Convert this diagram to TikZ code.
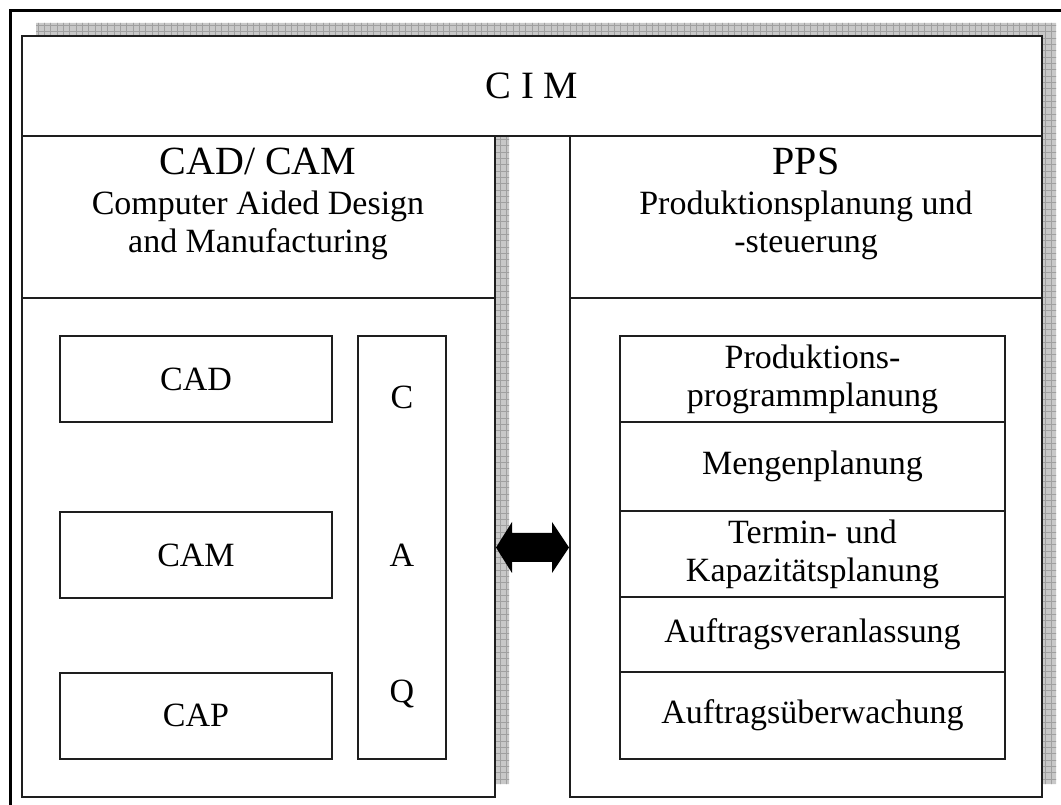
\documentclass[tikz,border=0pt]{standalone}
\usepackage{fontspec}
\usetikzlibrary{calc}
\setmainfont{Liberation Serif}
\newcommand\cimTitleFont{\fontsize{29}{34}\selectfont}
\newcommand\cimHeadFont{\fontsize{30}{36}\selectfont}
\newcommand\cimSubFont{\fontsize{25.5}{28.5}\selectfont}
\newcommand\cimRowFont{\fontsize{25.5}{28.5}\selectfont}
\definecolor{shadowfill}{RGB}{200,200,200}
\definecolor{shadowgrid}{RGB}{160,160,160}
\definecolor{edge}{RGB}{30,30,30}
\begin{document}
\begin{tikzpicture}[x=0.75pt,y=-0.75pt,
  panel/.style={draw=edge, line width=1.5pt, fill=white, inner sep=0pt},
  rule/.style={draw=edge, line width=1.5pt},
  box/.style={draw=edge, line width=1.5pt, fill=white, inner sep=0pt, align=center, font=\cimRowFont},
  label/.style={inner sep=0pt, align=center}]
\useasboundingbox (0,0) rectangle (1061,805);
\fill[white] (0,0) rectangle (1061,805);

% outer frame
\draw[line width=2.25pt, black] (10,806) -- (10,11) -- (1062,11);

% hatched drop shadows of the three panels
\begin{scope}
  \clip (36,23) rectangle (1056,123) (36,123) rectangle (509,784) (584,123) rectangle (1056,784);
  \fill[shadowfill] (0,0) rectangle (1061,805);
  \draw[shadowgrid, line width=0.4pt, step=4.75pt] (0,0) grid (1061,805);
\end{scope}

% panels
\node[panel, minimum width=765pt, minimum height=75pt, font=\cimTitleFont] (cim) at (532,86) {C I M};
\node[panel, minimum width=354.75pt, minimum height=495.75pt] (cadcam) at (258.5,466.5) {};
\node[panel, minimum width=354pt, minimum height=495.75pt] (pps) at (806,466.5) {};
\draw[rule] (cadcam.west |- 0,298) -- (cadcam.east |- 0,298);
\draw[rule] (pps.west |- 0,298) -- (pps.east |- 0,298);

% panel headings
\node[label, font=\cimHeadFont] (cadcamtitle) at (258,161) {CAD/ CAM};
\node[label, font=\cimSubFont] (cadcamsub) at (258,225) {Computer Aided Design\\and Manufacturing};
\node[label, font=\cimHeadFont] (ppstitle) at (806,161) {PPS};
\node[label, font=\cimSubFont] (ppssub) at (806,225) {Produktionsplanung und\\-steuerung};

% CAD/CAM modules
\node[box, minimum width=204pt, minimum height=64.5pt] (cad) at (196,379) {CAD};
\node[box, minimum width=204pt, minimum height=64.5pt] (cam) at (196,555) {CAM};
\node[box, minimum width=204pt, minimum height=64.5pt] (cap) at (196,715.5) {CAP};
\node[box, minimum width=66pt, minimum height=317.25pt] (caq) at (402,547.5) {};
\node[label, font=\cimRowFont] (caqc) at (402,397) {C};
\node[label, font=\cimRowFont] (caqa) at (402,555) {A};
\node[label, font=\cimRowFont] (caqq) at (402,694) {Q};

% PPS stages
\node[box, minimum width=288.75pt, minimum height=64.5pt] (r1) at (812.5,379) {Produktions-\\programmplanung};
\node[box, minimum width=288.75pt, minimum height=66.75pt] (r2) at (812.5,466.5) {Mengenplanung};
\node[box, minimum width=288.75pt, minimum height=64.5pt] (r3) at (812.5,554) {Termin- und\\Kapazitätsplanung};
\node[box, minimum width=288.75pt, minimum height=56.25pt] (r4) at (812.5,634.5) {Auftragsveranlassung};
\node[box, minimum width=288.75pt, minimum height=65.25pt] (r5) at (812.5,715.5) {Auftragsüberwachung};

% double-headed block arrow between the two panels
\coordinate (arrL) at (cadcam.east |- 0,547.5);
\coordinate (arrR) at (pps.west |- 0,547.5);
\fill[black] (arrL) -- ++(16,-25.5) -- ++(0,11) -- ($(arrR)+(-17,-14.5)$) -- ++(0,-11) -- (arrR)
  -- ++(-17,25.5) -- ++(0,-11) -- ($(arrL)+(16,14.5)$) -- ++(0,11) -- cycle;
\end{tikzpicture}
\end{document}
